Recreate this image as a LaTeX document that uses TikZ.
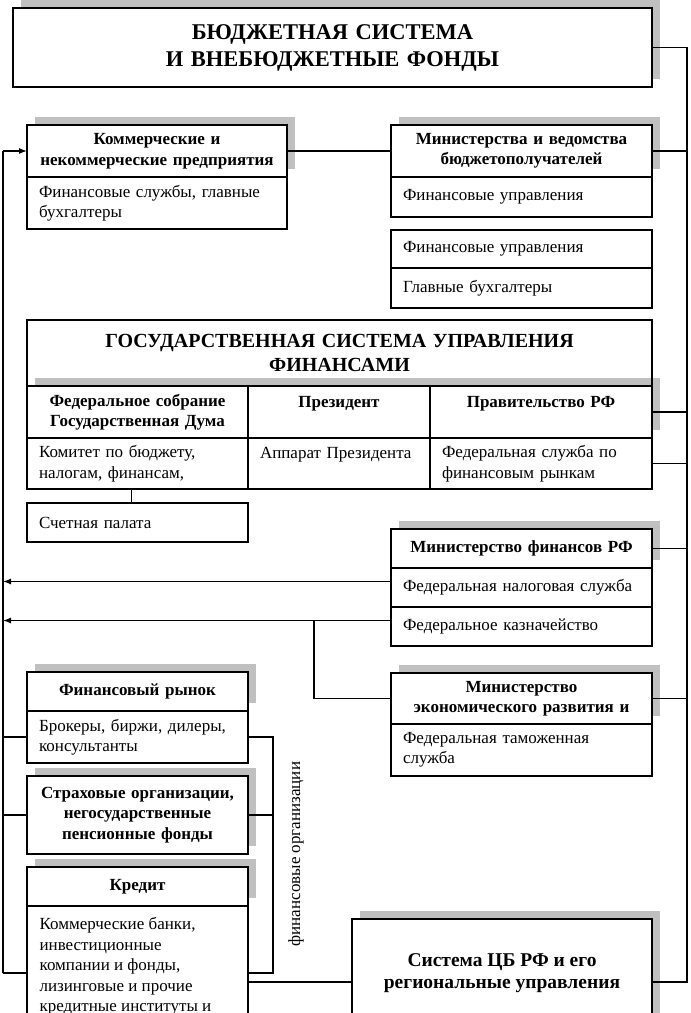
\documentclass[tikz,border=0pt]{standalone}
\usepackage{fontspec}
\setmainfont{Liberation Serif}
\usetikzlibrary{shadows,arrows.meta}
\definecolor{shadowc}{HTML}{C0C0C0}
\newcommand{\bodyfont}{\fontsize{17}{20.5}\selectfont}
\newcommand{\hdfont}{\bfseries\fontsize{17}{20.5}\selectfont}
\begin{document}
\begin{tikzpicture}[x=1pt,y=-1pt,line width=1.2pt,
  base/.style={draw=black, fill=white, line width=1.2pt, inner xsep=12pt, inner ysep=1pt, outer sep=0pt},
  hd/.style={base, align=center, font=\hdfont},
  bd/.style={base, align=left, font=\bodyfont},
  shd/.style={drop shadow={shadow xshift=8pt, shadow yshift=8pt, fill=shadowc, opacity=1}},
  wd/.code={\pgfmathsetmacro\tw{#1-24}\edef\tmp{\noexpand\tikzset{minimum width=#1pt,text width=\tw pt}}\tmp},
  ht/.style={minimum height=#1pt},
  arr/.style={-{Latex[length=8pt,width=6pt]}}
]
\useasboundingbox (0,0) rectangle (691,1013);
\fill[white] (0,0) rectangle (691,1013);

% top box
\node[base, shd, wd=639, ht=79, align=center, font=\bfseries\fontsize{22.5}{27}\selectfont] (top) at (332.5,47.5) {БЮДЖЕТНАЯ СИСТЕМА\\И ВНЕБЮДЖЕТНЫЕ ФОНДЫ};

% commercial
\node[hd, shd, wd=260, ht=52] (kh) at (157,151) {Коммерческие и\\некоммерческие предприятия};
\node[bd, wd=260, ht=52] (kb) at (157,203) {Финансовые службы, главные\\бухгалтеры};

% ministries
\node[hd, shd, wd=261, ht=52] (mh) at (521.5,151) {Министерства и ведомства\\бюджетополучателей};
\node[bd, wd=261, ht=40] (mb) at (521.5,197) {Финансовые управления};
\node[bd, wd=261, ht=38] (fu) at (521.5,249) {Финансовые управления};
\node[bd, wd=261, ht=40] (gb) at (521.5,288) {Главные бухгалтеры};

% state system
\node[base, wd=625, ht=66, align=center, font=\bfseries\fontsize{20}{24}\selectfont] (gt) at (339.5,353) {ГОСУДАРСТВЕННАЯ СИСТЕМА УПРАВЛЕНИЯ\\ФИНАНСАМИ};
\node[hd, shd, wd=221, ht=52] (c1h) at (137.5,412) {Федеральное собрание\\Государственная Дума};
\node[hd, shd, wd=182, ht=52] (c2h) at (339,412) {Президент\\\mbox{}};
\node[hd, shd, wd=222, ht=52] (c3h) at (541,412) {Правительство РФ\\\mbox{}};
\draw (gt.north west) rectangle (gt.south east);
\node[bd, wd=221, ht=51] (c1b) at (137.5,463.5) {Комитет по бюджету,\\налогам, финансам,};
\node[bd, wd=182, ht=51] (c2b) at (339,463.5) {Аппарат Президента\\\mbox{}};
\node[bd, wd=222, ht=51] (c3b) at (541,463.5) {Федеральная служба по\\финансовым рынкам};
\node[bd, wd=221, ht=39] (sp) at (137.5,522.5) {Счетная палата};

% ministry of finance
\node[hd, shd, wd=261, ht=39] (mfh) at (521.5,548.5) {Министерство финансов РФ};
\node[bd, wd=261, ht=39] (nal) at (521.5,587.5) {Федеральная налоговая служба};
\node[bd, wd=261, ht=39] (kaz) at (521.5,626.5) {Федеральное казначейство};

% ministry of economy
\node[hd, shd, wd=261, ht=51] (meh) at (521.5,698.5) {Министерство\\экономического развития и};
\node[bd, wd=261, ht=52] (meb) at (521.5,750) {Федеральная таможенная\\служба};

% financial organisations
\node[hd, shd, wd=221, ht=39] (frh) at (137.5,691.5) {Финансовый рынок};
\node[bd, wd=221, ht=52] (frb) at (137.5,737) {Брокеры, биржи, дилеры,\\консультанты};
\node[hd, shd, wd=221, ht=78] (str) at (137.5,815) {Страховые организации,\\негосударственные\\пенсионные фонды};
\node[hd, shd, wd=221, ht=39] (krh) at (137.5,886.5) {Кредит};
\node[bd, wd=221, ht=134] (krb) at (137.5,973) {};
\node[anchor=north west, align=left, inner sep=0pt, font=\bodyfont] (krt) at (39,917) {Коммерческие банки,\\инвестиционные\\компании и фонды,\\лизинговые и прочие\\кредитные институты и};

\node[rotate=90, font=\bodyfont] (fo) at (296,854) {финансовые организации};

% central bank
\node[base, shd, wd=300, ht=126] (cb) at (502,982) {};
\node[align=center, inner sep=0pt, font=\bfseries\fontsize{19.5}{22}\selectfont] (cbt) at (502,973) {Система ЦБ РФ и его\\региональные управления};

% spines
\coordinate (L) at (3,0);
\coordinate (R) at (687,0);
\coordinate (B) at (273,0);
\coordinate (M) at (314,0);

% left spine
\draw (L |- kh.west) -- (L |- krb.west);
\draw[arr] (L |- kh.west) -- (kh.west);
\draw (kh.east) -- (mh.west);

% right spine
\draw (top.east) -- (R |- top.east) -- (R |- cb.east) -- (cb.east);
\draw (mh.east) -- (R |- mh.east);
\draw (c3h.east) -- (R |- c3h.east);
\draw (c3b.east) -- (R |- c3b.east);
\draw (mfh.east) -- (R |- mfh.east);
\draw (meh.east) -- (R |- meh.east);

% committee to audit chamber
\draw ([xshift=-6pt]c1b.south) -- ([xshift=-6pt]sp.north);

% arrows from ministry of finance
\coordinate (na) at ([yshift=6pt]nal.west);
\coordinate (ka) at ([yshift=6pt]kaz.west);
\draw[arr] (na) -- (L |- na);
\draw[arr] (ka) -- (L |- ka);
\draw (M |- ka) |- (meh.west);

% financial organisations
\draw (frb.west) -- (L |- frb.west);
\draw (str.west) -- (L |- str.west);
\draw (krb.west) -- (L |- krb.west);
\draw (frb.east) -| (B |- krb.east) -- (krb.east);
\draw (str.east) -- (B |- str.east);
\draw (krb.east |- cb.west) -- (cb.west);
\end{tikzpicture}
\end{document}
